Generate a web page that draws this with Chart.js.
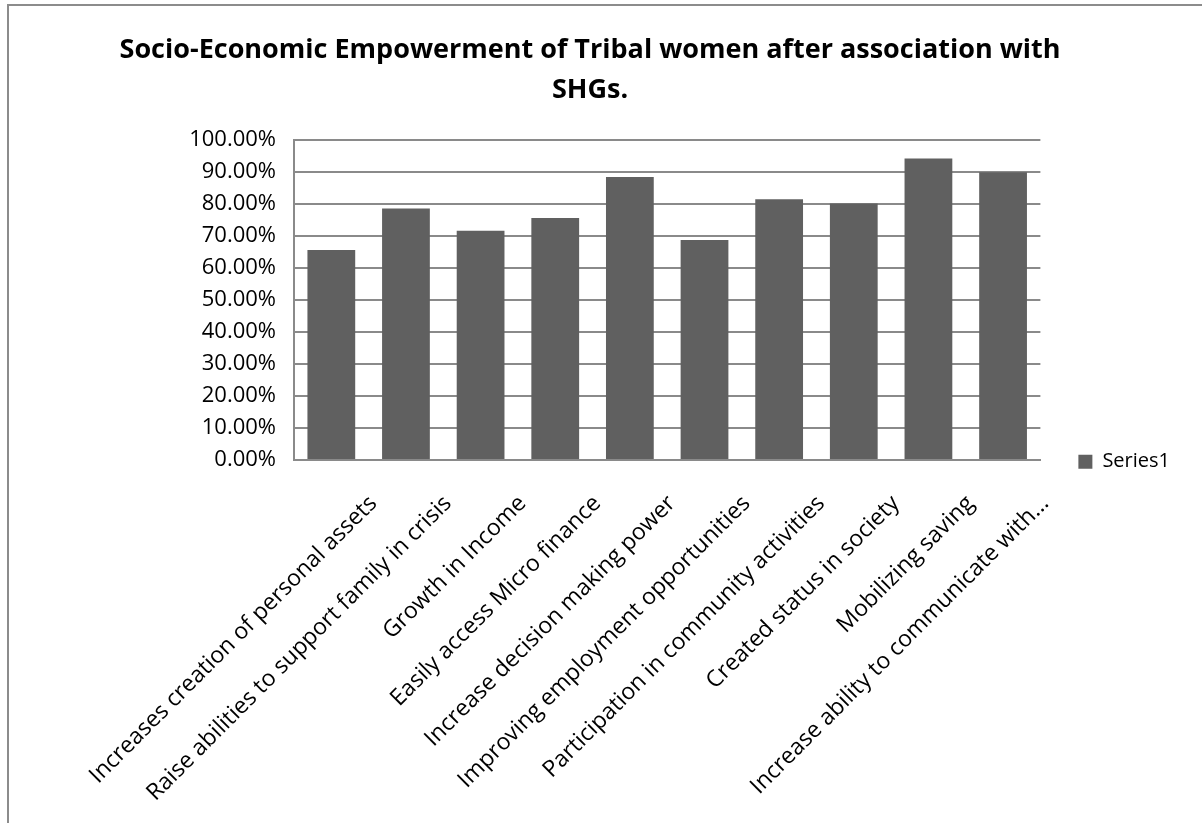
<!DOCTYPE html>
<html>
<head>
<meta charset="utf-8">
<title>SHG empowerment chart</title>
<script src="https://cdn.jsdelivr.net/npm/chart.js@4/dist/chart.umd.min.js"></script>
<style>
  html, body { margin:0; padding:0; background:#fff; }
  #wrap { position:relative; width:1202px; height:823px; }
  #frame { position:absolute; left:7px; top:4px; right:0; bottom:0; border-left:2px solid #8c8c8c; border-top:2px solid #8c8c8c; pointer-events:none; }
  canvas { position:absolute; left:0; top:0; }
</style>
</head>
<body>
<div id="wrap">
  <canvas id="chart" width="1202" height="823"></canvas>
  <div id="frame"></div>
</div>
<script>
// data
const titleLines = ["Socio-Economic Empowerment of Tribal women after association with", "SHGs."];
const categories = [
    "Increases creation of personal assets",
    "Raise abilities to support family in crisis",
    "Growth in Income",
    "Easily access Micro finance",
    "Increase decision making power",
    "Improving employment opportunities",
    "Participation in community activities",
    "Created status in society",
    "Mobilizing saving",
    "Increase ability to communicate with..."
];
const series1 = [0.656, 0.786, 0.716, 0.756, 0.884, 0.687, 0.815, 0.801, 0.942, 0.899];
const seriesName = "Series1";
const yMin = 0, yMax = 1, yStep = 0.1;

const FONT = "'Open Sans', 'Liberation Sans', sans-serif";
const GRID = '#8a8a8a';

new Chart(document.getElementById('chart').getContext('2d'), {
    type: 'bar',
    data: {
        labels: categories,
        datasets: [{
            label: seriesName,
            data: series1,
            backgroundColor: '#606060',
            borderWidth: 0,
            barPercentage: 0.8,
            categoryPercentage: 0.8
        }]
    },
    options: {
        responsive: false,
        animation: false,
        layout: { padding: { left: 0, right: 22, top: 0, bottom: 0 } },
        plugins: {
            title: {
                display: true,
                text: titleLines,
                color: '#000',
                font: { family: FONT, size: 27, weight: 'bold', lineHeight: 1.48 },
                padding: { top: 30, bottom: 30 }
            },
            legend: {
                position: 'right',
                // empty legend title only pushes the entry down, like the original
                title: { display: true, text: ' ', font: { size: 12 }, padding: { top: 0, bottom: 86 } },
                labels: {
                    boxWidth: 14, boxHeight: 14,
                    padding: 38,
                    color: '#000',
                    font: { family: FONT, size: 20 }
                }
            },
            tooltip: { enabled: false }
        },
        scales: {
            x: {
                grid: { display: false, drawTicks: false },
                border: { color: GRID, width: 2 },
                ticks: {
                    autoSkip: false,
                    maxRotation: 45, minRotation: 45,
                    labelOffset: 42,
                    padding: 30,
                    color: '#000',
                    font: { family: FONT, size: 23 }
                },
                afterFit: (s) => { s.height = 823 - 460; }
            },
            y: {
                min: yMin, max: yMax,
                grid: { color: GRID, lineWidth: 2, drawTicks: false },
                border: { color: GRID, width: 2 },
                ticks: {
                    stepSize: yStep,
                    padding: 18,
                    color: '#000',
                    font: { family: FONT, size: 22 },
                    callback: (v) => (v * 100).toFixed(2) + '%'
                },
                afterFit: (s) => { s.width = 294; }
            }
        }
    }
});
</script>
</body>
</html>
